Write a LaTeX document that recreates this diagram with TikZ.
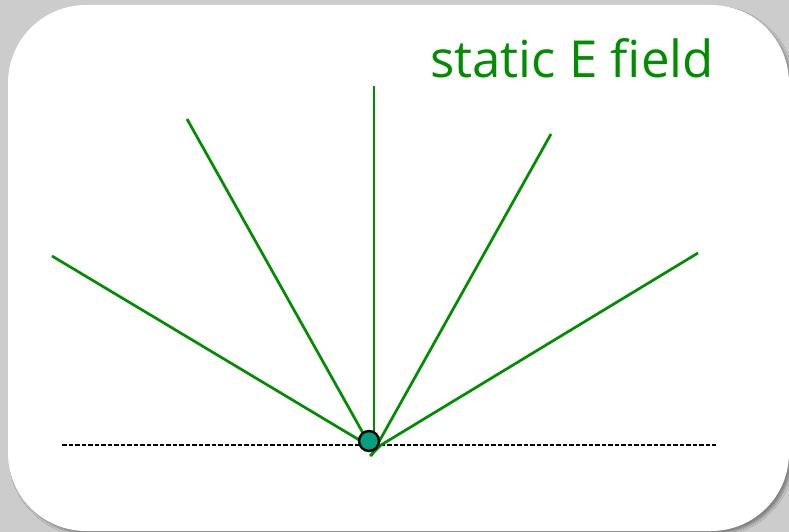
\documentclass[tikz,border=0pt]{standalone}
\usepackage{fontspec}
\setmainfont{Open Sans}
\usetikzlibrary{shadows.blur}
\definecolor{bggray}{HTML}{CCCCCC}
\definecolor{fieldgreen}{HTML}{008E00}
\definecolor{chargeteal}{HTML}{00A080}
\tikzset{
  fieldline/.style={draw=fieldgreen, line width=2.7pt},
  axisline/.style={draw=black, line width=1.4pt, dash pattern=on 4.5pt off 2pt},
  charge/.style={circle, draw=black, line width=2.4pt, fill=chargeteal, minimum size=20pt, inner sep=0pt},
  panel/.style={fill=white, rounded corners=78pt, blur shadow={shadow xshift=3pt, shadow yshift=-3pt, shadow opacity=35, shadow blur steps=6}},
  titletext/.style={text=fieldgreen, font=\fontsize{51}{58}\selectfont, anchor=base east, inner sep=0pt}
}
\begin{document}
\begin{tikzpicture}[x=1pt,y=-1pt]
\fill[bggray] (0,0) rectangle (789,532);
\useasboundingbox (0,0) rectangle (789,532);
\path[panel] (8,5) rectangle (789,531);
\node[titletext] (title) at (714,78) {static E ﬁeld};
\coordinate (a1) at (52,256);
\coordinate (a2) at (187,119);
\coordinate (a3) at (374,86);
\coordinate (a4) at (551,134);
\coordinate (a5) at (698,253);
\coordinate (b1) at (366,444);
\coordinate (b2) at (368,442);
\coordinate (b3) at (374,441);
\coordinate (b4) at (371,456);
\coordinate (b5) at (381,445);
\coordinate (s5) at (370,456);
\coordinate (dl) at (62,445);
\coordinate (dr) at (716,445);
\draw[axisline] (dl) -- (dr);
\draw[fieldline] (a1) -- (b1);
\draw[fieldline] (a2) -- (b2);
\draw[fieldline] (a3) -- (b3);
\draw[fieldline] (a4) -- (b4);
\draw[fieldline] (a5) -- (b5) -- (s5);
\node[charge] (q) at (369,441) {};
\end{tikzpicture}
\end{document}
